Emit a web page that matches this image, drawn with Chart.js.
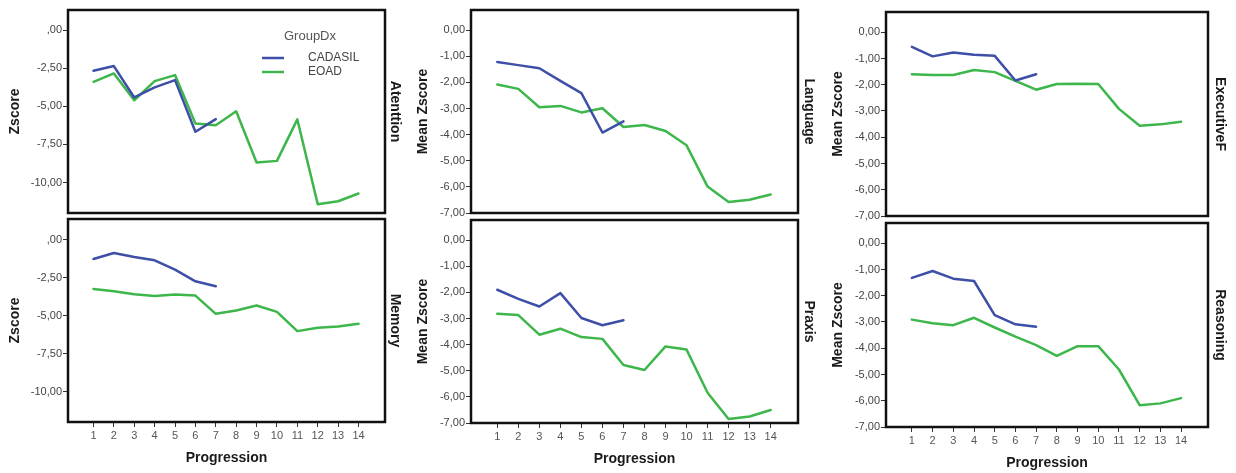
<!DOCTYPE html>
<html>
<head>
<meta charset="utf-8">
<script src="https://cdn.jsdelivr.net/npm/chart.js@4.4.0/dist/chart.umd.min.js"></script>
<style>
  html, body { margin: 0; padding: 0; background: #fff; }
  #wrap { position: relative; width: 1236px; height: 473px; overflow: hidden; }
  #wrap canvas { position: absolute; left: 0; top: 0; }
</style>
</head>
<body>
<div id="wrap"></div>
<script>
// x values (Progression)
const progression = [1, 2, 3, 4, 5, 6, 7, 8, 9, 10, 11, 12, 13, 14];

// group means
const attentionCadasil = [-2.67, -2.36, -4.42, -3.76, -3.28, -6.67, -5.84];
const attentionEoad = [-3.39, -2.84, -4.60, -3.35, -2.95, -6.13, -6.24, -5.32, -8.69, -8.58, -5.86, -11.42, -11.23, -10.72];
const memoryCadasil = [-1.27, -0.88, -1.14, -1.36, -1.97, -2.74, -3.06];
const memoryEoad = [-3.24, -3.39, -3.59, -3.70, -3.61, -3.68, -4.88, -4.66, -4.33, -4.75, -6.02, -5.80, -5.71, -5.54];
const languageCadasil = [-1.22, -1.34, -1.46, -1.94, -2.41, -3.92, -3.49];
const languageEoad = [-2.08, -2.25, -2.95, -2.90, -3.15, -2.99, -3.71, -3.63, -3.86, -4.41, -5.99, -6.58, -6.49, -6.29];
const praxisCadasil = [-1.90, -2.25, -2.54, -2.03, -2.98, -3.26, -3.07];
const praxisEoad = [-2.82, -2.87, -3.62, -3.39, -3.71, -3.78, -4.78, -4.97, -4.07, -4.19, -5.84, -6.85, -6.75, -6.50];
const executiveCadasil = [-0.56, -0.92, -0.77, -0.86, -0.90, -1.84, -1.60];
const executiveEoad = [-1.60, -1.63, -1.63, -1.44, -1.52, -1.85, -2.19, -1.97, -1.96, -1.97, -2.92, -3.56, -3.51, -3.41];
const reasoningCadasil = [-1.32, -1.06, -1.35, -1.44, -2.74, -3.09, -3.18];
const reasoningEoad = [-2.91, -3.05, -3.12, -2.84, -3.21, -3.56, -3.88, -4.29, -3.92, -3.92, -4.81, -6.17, -6.10, -5.90];

// tick values and their labels
const zTicksWide = [0, -2.5, -5, -7.5, -10];
const zTickLabelsWide = [',00', '-2,50', '-5,00', '-7,50', '-10,00'];
const zTicksNarrow = [0, -1, -2, -3, -4, -5, -6, -7];
const zTickLabelsNarrow = ['0,00', '-1,00', '-2,00', '-3,00', '-4,00', '-5,00', '-6,00', '-7,00'];

const groups = ['CADASIL', 'EOAD'];
const legendTitle = 'GroupDx';
const xTitle = 'Progression';

const BLUE = '#3d4fa6';
const GREEN = '#3db64b';
const FONT = '"Liberation Sans", Arial, sans-serif';

const panels = [
  { side: 'Atenttion', yTitle: 'Zscore', cad: attentionCadasil, eoad: attentionEoad,
    ticks: zTicksWide, labels: zTickLabelsWide, min: -12, max: 1.32,
    box: [68, 10, 385, 213], yTitleX: 15, sideX: 395, legend: true },
  { side: 'Memory', yTitle: 'Zscore', cad: memoryCadasil, eoad: memoryEoad,
    ticks: zTicksWide, labels: zTickLabelsWide, min: -12, max: 1.36,
    box: [68, 219, 385, 422], yTitleX: 15, sideX: 395, xTitleY: 458 },
  { side: 'Language', yTitle: 'Mean Zscore', cad: languageCadasil, eoad: languageEoad,
    ticks: zTicksNarrow, labels: zTickLabelsNarrow, min: -7, max: 0.77,
    box: [471, 10, 798, 213], yTitleX: 423, sideX: 809 },
  { side: 'Praxis', yTitle: 'Mean Zscore', cad: praxisCadasil, eoad: praxisEoad,
    ticks: zTicksNarrow, labels: zTickLabelsNarrow, min: -7, max: 0.77,
    box: [471, 220, 798, 423], yTitleX: 423, sideX: 809, xTitleY: 459 },
  { side: 'ExecutiveF', yTitle: 'Mean Zscore', cad: executiveCadasil, eoad: executiveEoad,
    ticks: zTicksNarrow, labels: zTickLabelsNarrow, min: -7, max: 0.77,
    box: [886, 12, 1208, 216], yTitleX: 838, sideX: 1220 },
  { side: 'Reasoning', yTitle: 'Mean Zscore', cad: reasoningCadasil, eoad: reasoningEoad,
    ticks: zTicksNarrow, labels: zTickLabelsNarrow, min: -7, max: 0.77,
    box: [886, 223, 1208, 427], yTitleX: 838, sideX: 1220, xTitleY: 463 },
];

const W = 1236, H = 473;
const Y_AXIS_W = 44, X_AXIS_H = 24;

// frame, side titles and the legend
const panelDecor = {
  id: 'panelDecor',
  afterDraw(chart, args, opts) {
    const { ctx, chartArea: a } = chart;
    const midY = (a.top + a.bottom) / 2;
    ctx.save();
    ctx.strokeStyle = '#111';
    ctx.lineWidth = 2.5;
    ctx.strokeRect(a.left, a.top, a.right - a.left, a.bottom - a.top);

    ctx.fillStyle = '#1a1a1a';
    ctx.textAlign = 'center';
    ctx.textBaseline = 'middle';
    ctx.font = 'bold 14px ' + FONT;

    ctx.save();
    ctx.translate(opts.yTitleX, midY);
    ctx.rotate(-Math.PI / 2);
    ctx.fillText(opts.yTitle, 0, 0);
    ctx.restore();

    ctx.save();
    ctx.translate(opts.sideX, midY);
    ctx.rotate(Math.PI / 2);
    ctx.fillText(opts.side, 0, 0);
    ctx.restore();

    if (opts.xTitleY) {
      ctx.fillText(xTitle, (a.left + a.right) / 2, opts.xTitleY);
    }

    if (opts.legend) {
      ctx.fillStyle = '#555';
      ctx.font = '13px ' + FONT;
      ctx.fillText(legendTitle, 310, 36);
      ctx.font = '12px ' + FONT;
      ctx.textAlign = 'left';
      const ds = chart.data.datasets;
      [58, 72].forEach((y, i) => {
        ctx.strokeStyle = ds[i].borderColor;
        ctx.lineWidth = 2.5;
        ctx.beginPath();
        ctx.moveTo(262, y);
        ctx.lineTo(284, y);
        ctx.stroke();
        ctx.fillStyle = '#444';
        ctx.fillText(ds[i].label, 308, y);
      });
    }
    ctx.restore();
  }
};

function toPoints(values) {
  return values.map((v, i) => ({ x: progression[i], y: v }));
}

const wrap = document.getElementById('wrap');

panels.forEach((p) => {
  const canvas = document.createElement('canvas');
  canvas.width = W;
  canvas.height = H;
  canvas.style.width = W + 'px';
  canvas.style.height = H + 'px';
  wrap.appendChild(canvas);

  const [l, t, r, b] = p.box;
  const showX = !!p.xTitleY;

  new Chart(canvas, {
    type: 'line',
    data: {
      datasets: [
        { label: groups[0], data: toPoints(p.cad), borderColor: BLUE, borderWidth: 2.5 },
        { label: groups[1], data: toPoints(p.eoad), borderColor: GREEN, borderWidth: 2.5 },
      ],
    },
    options: {
      responsive: false,
      animation: false,
      devicePixelRatio: 1,
      events: [],
      elements: { point: { radius: 0 }, line: { tension: 0, borderCapStyle: 'round', borderJoinStyle: 'round' } },
      layout: {
        padding: {
          left: l - Y_AXIS_W,
          top: t,
          right: W - r,
          bottom: showX ? H - b - X_AXIS_H : H - b,
        },
      },
      scales: {
        x: {
          type: 'linear',
          display: showX,
          min: -0.25,
          max: 15.3,
          afterBuildTicks: (s) => { s.ticks = progression.map((v) => ({ value: v })); },
          afterFit: (s) => { s.height = showX ? X_AXIS_H : 0; },
          border: { display: false },
          grid: { drawOnChartArea: false, drawTicks: true, tickLength: 5, color: '#333', lineWidth: 1 },
          ticks: { color: '#555', font: { family: FONT, size: 11 }, padding: 2, maxRotation: 0, autoSkip: false },
        },
        y: {
          type: 'linear',
          min: p.min,
          max: p.max,
          afterBuildTicks: (s) => { s.ticks = p.ticks.map((v) => ({ value: v })); },
          afterFit: (s) => { s.width = Y_AXIS_W; },
          border: { display: false },
          grid: { drawOnChartArea: false, drawTicks: true, tickLength: 5, color: '#333', lineWidth: 1 },
          ticks: {
            color: '#444',
            font: { family: FONT, size: 11 },
            padding: 1,
            autoSkip: false,
            callback: (v) => {
              const i = p.ticks.indexOf(v);
              return i >= 0 ? p.labels[i] : '';
            },
          },
        },
      },
      plugins: {
        legend: { display: false },
        tooltip: { enabled: false },
        panelDecor: { yTitle: p.yTitle, side: p.side, yTitleX: p.yTitleX, sideX: p.sideX, xTitleY: p.xTitleY, legend: p.legend },
      },
    },
    plugins: [panelDecor],
  });
});
</script>
</body>
</html>
